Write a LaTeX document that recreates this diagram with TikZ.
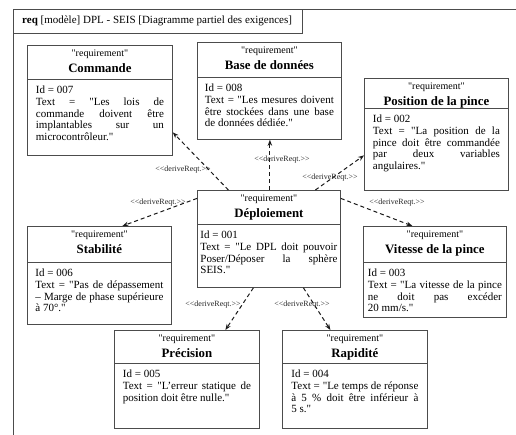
\documentclass[tikz,border=0pt]{standalone}
\usepackage{fontspec}
\setmainfont{Liberation Serif}[Ligatures=TeXOff]
\usetikzlibrary{arrows.meta}

% one requirement block: name, x, y (top left), width, height, header height, text width, title, text
\newcommand{\reqbox}[9]{%
  \node[rec, minimum width=#4pt, minimum height=#5pt] (#1) at (#2,#3) {};
  \draw[headline] ([yshift=-#6pt]#1.north west) -- ([yshift=-#6pt]#1.north east);
  \node[stereo] (#1-st) at ([yshift=-11.5pt]#1.north) {"requirement"};
  \node[reqname] (#1-nm) at ([yshift=-27.5pt]#1.north) {#8};
  \node[reqtext, text width=#7pt] (#1-tx) at ([yshift=-#6pt-7pt]#1.north) {#9};
}

\begin{document}
\begin{tikzpicture}[x=1pt, y=-1pt]
        \tikzstyle{frame} = [draw=black!70, line width=0.8pt]
        \tikzstyle{rec} = [rectangle, draw=black!70, line width=0.8pt, inner sep=0pt, anchor=north west]
        \tikzstyle{headline} = [draw=black!70, line width=0.8pt]
        \tikzstyle{stereo} = [anchor=base, inner sep=0pt, font=\fontsize{10}{12}\selectfont]
        \tikzstyle{reqname} = [anchor=base, inner sep=0pt, font=\bfseries\fontsize{12.8}{14}\selectfont]
        \tikzstyle{reqtext} = [anchor=north, inner sep=0pt, align=justify, font=\fontsize{11}{11.7}\selectfont]
        \tikzstyle{line} = [-{Stealth[length=6pt,width=4.5pt]}, dash pattern=on 4pt off 3pt, line width=1pt, draw=black!90]
        \tikzstyle{dlabel} = [inner sep=0pt, text=black!85, font=\fontsize{8}{9}\selectfont]

        \useasboundingbox (0,0) rectangle (516,435);

        % diagram frame and its tab
        \draw[frame] (13,435) -- (13,9) -- (516,9);
        \draw[frame] (13,33) -- (302,33) -- (302,9);
        \node[anchor=base west, inner sep=0pt, font=\fontsize{11}{13}\selectfont] (diagtitle) at (22,23.5)
        {\textbf{req} [modèle] DPL - SEIS [Diagramme partiel des exigences]};

        \reqbox{cmd}{27}{45}{145}{110}{34}{128}{Commande}{Id = 007\\Text = "Les lois de\linebreak
        commande doivent être\linebreak implantables sur un\linebreak microcontrôleur."}
        \reqbox{bdd}{197}{42}{144}{97}{35}{129}{Base de données}{Id = 008\\Text = "Les mesures doivent\linebreak
        être stockées dans une base\linebreak de données dédiée."}
        \reqbox{pos}{364}{78}{144}{112}{30}{127}{Position de la pince}{Id = 002\\Text = "La position de la\linebreak
        pince doit être commandée\linebreak par deux variables\linebreak angulaires."}
        \reqbox{dep}{197}{190}{143}{97}{34}{137}{Déploiement}{Id = 001\\Text = "Le DPL doit pouvoir\linebreak
        Poser/Déposer la sphère\linebreak SEIS."}
        \reqbox{stab}{27}{226}{144}{98}{36}{128}{Stabilité}{Id = 006\\Text = "Pas de dépassement\linebreak
        – Marge de phase supérieure\linebreak à 70°."}
        \reqbox{vit}{363}{226}{143}{91}{36}{134}{Vitesse de la pince}{Id = 003\\Text = "La vitesse de la pince\linebreak
        ne doit pas excéder\linebreak 20 mm/s."}
        \reqbox{prec}{114}{330}{145}{98}{33}{128}{Précision}{Id = 005\\Text = "L’erreur statique de\linebreak
        position doit être nulle."}
        \reqbox{rap}{282}{330}{145}{98}{33}{127}{Rapidité}{Id = 004\\Text = "Le temps de réponse\linebreak
        à 5 \% doit être inférieur à\linebreak 5 s."}

        % deriveReqt links
        \draw[line] ([xshift=-40.5pt]dep.north) -- ([yshift=-32pt]cmd.east);
        \draw[line] ([xshift=1pt]dep.north) -- ([xshift=0.5pt]bdd.south);
        \draw[line] ([xshift=46.5pt]dep.north) -- ([yshift=-21pt]pos.west);
        \draw[line] ([yshift=40.5pt]dep.east) -- ([xshift=-22.5pt]vit.north);
        \draw[line] ([yshift=40.5pt]dep.west) -- ([xshift=23pt]stab.north);
        \draw[line] ([xshift=-15.5pt]dep.south) -- ([xshift=38.5pt]prec.north);
        \draw[line] ([xshift=34.5pt]dep.south) -- ([xshift=-24.5pt]rap.north);

        \node[dlabel] (lcmd) at (183,170) {<<deriveReqt.>>};
        \node[dlabel] (lbdd) at (282,160) {<<deriveReqt.>>};
        \node[dlabel] (lpos) at (330,178) {<<deriveReqt.>>};
        \node[dlabel] (lstab) at (158,203) {<<deriveReqt.>>};
        \node[dlabel] (lvit) at (397,203) {<<deriveReqt.>>};
        \node[dlabel] (lprec) at (213,305) {<<deriveReqt.>>};
        \node[dlabel] (lrap) at (302,305) {<<deriveReqt.>>};
\end{tikzpicture}
\end{document}
